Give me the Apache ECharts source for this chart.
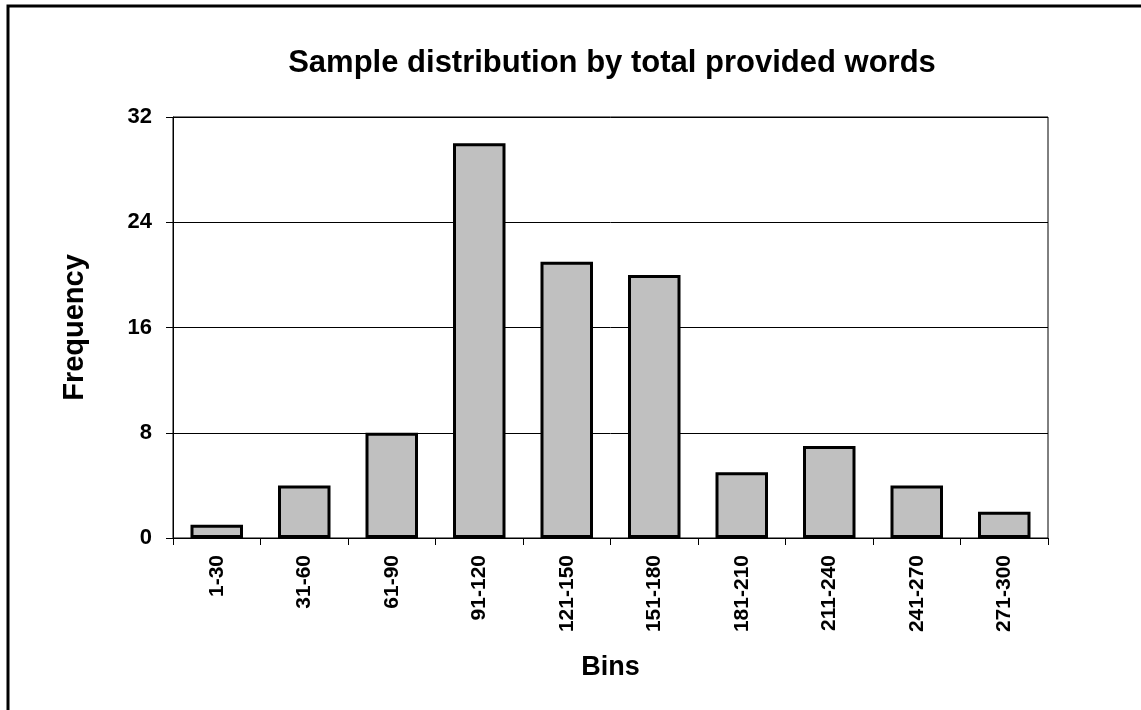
<!DOCTYPE html>
<html>
<head>
<meta charset="utf-8">
<script src="https://cdn.jsdelivr.net/npm/echarts@6/dist/echarts.min.js"></script>
<style>
html,body{margin:0;padding:0;background:#fff;}
#chart{width:1141px;height:710px;}
</style>
</head>
<body>
<div id="chart"></div>
<script>
const categories = ['1-30','31-60','61-90','91-120','121-150','151-180','181-210','211-240','241-270','271-300'];
const frequency = [1, 4, 8, 30, 21, 20, 5, 7, 4, 2];
const yTicks = [0, 8, 16, 24, 32];

const FONT = '"Liberation Sans", Arial, sans-serif';
const chart = echarts.init(document.getElementById('chart'), null, {renderer: 'canvas'});
chart.setOption({
  backgroundColor: '#fff',
  animation: false,
  title: {
    text: 'Sample distribution by total provided words',
    left: 607,
    textAlign: 'center',
    top: 43,
    textStyle: {fontFamily: FONT, fontWeight: 'bold', fontSize: 31, color: '#000'}
  },
  graphic: [{
    type: 'rect',
    shape: {x: 8, y: 6, width: 1300, height: 900},
    style: {fill: null, stroke: '#000', lineWidth: 3},
    silent: true
  }],
  grid: {
    left: 173, right: 93, top: 117, bottom: 172,
    show: true, borderColor: '#000', borderWidth: 1, backgroundColor: 'transparent'
  },
  xAxis: {
    type: 'category',
    data: categories,
    name: 'Bins',
    nameLocation: 'middle',
    nameGap: 116,
    nameTextStyle: {fontFamily: FONT, fontWeight: 'bold', fontSize: 27, color: '#000'},
    axisLine: {show: true, lineStyle: {color: '#000', width: 1}},
    axisTick: {show: true, alignWithLabel: false, length: 7, lineStyle: {color: '#000'}},
    axisLabel: {rotate: 90, margin: 17, fontFamily: FONT, fontWeight: 'bold', fontSize: 21, color: '#000', interval: 0}
  },
  yAxis: {
    type: 'value',
    min: 0, max: 32, interval: 8,
    name: 'Frequency',
    nameLocation: 'middle',
    nameRotate: 90,
    nameGap: 84,
    nameTextStyle: {fontFamily: FONT, fontWeight: 'bold', fontSize: 29, color: '#000', padding: [0, 0, 0, 0]},
    axisLine: {show: true, lineStyle: {color: '#000', width: 1}},
    axisTick: {show: true, length: 7, lineStyle: {color: '#000'}},
    splitLine: {show: true, lineStyle: {color: '#000', width: 1}},
    axisLabel: {margin: 21, fontFamily: FONT, fontWeight: 'bold', fontSize: 22, color: '#000',
      formatter: v => yTicks.includes(v) ? String(v) : ''}
  },
  series: [{
    type: 'bar',
    data: frequency,
    barCategoryGap: '40%',
    itemStyle: {color: '#C0C0C0', borderColor: '#000', borderWidth: 3}
  }]
});
</script>
</body>
</html>
